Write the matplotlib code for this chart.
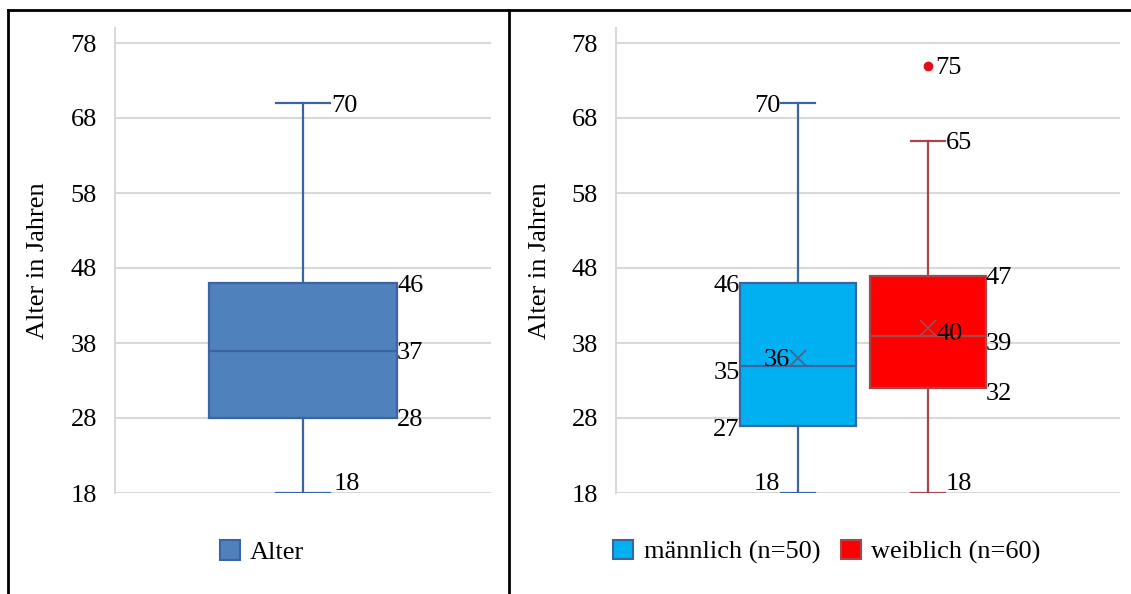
import matplotlib
matplotlib.use("Agg")
import matplotlib.pyplot as plt
from matplotlib.patches import Patch
from matplotlib.lines import Line2D

# ---- data -------------------------------------------------------------
overall_label = "Alter"
overall_stats = [18, 28, 37, 46, 70]          # min, Q1, median, Q3, max

group_labels = ["männlich (n=50)", "weiblich (n=60)"]
group_stats = [[18, 27, 35, 46, 70],           # min, Q1, median, Q3, max
               [18, 32, 39, 47, 65]]
group_means = [36, 40]
group_outliers = [[], [75]]

y_ticks = [18, 28, 38, 48, 58, 68, 78]
y_label = "Alter in Jahren"

# ---- style ------------------------------------------------------------
plt.rcParams["font.family"] = ["Liberation Serif", "DejaVu Serif"]
FS = 19
GRID = "#D9D9D9"

W, H = 1131, 594
fig = plt.figure(figsize=(W / 100, H / 100), dpi=100)


def px_axes(x0, x1, ytop, ybot):
    return fig.add_axes([x0 / W, 1 - ybot / H, (x1 - x0) / W, (ybot - ytop) / H])


def style_axis(ax):
    ax.set_xlim(0, 1)
    ax.set_ylim(18, 80)
    ax.set_yticks(y_ticks)
    ax.set_yticklabels([str(t) for t in y_ticks], fontsize=FS)
    ax.set_xticks([])
    ax.tick_params(axis="y", length=0, pad=13)
    for s in ["top", "right", "bottom"]:
        ax.spines[s].set_visible(False)
    ax.spines["left"].set_color(GRID)
    ax.spines["left"].set_linewidth(1.5)
    ax.yaxis.grid(True, color=GRID, linewidth=1.5)
    ax.set_axisbelow(True)


def draw_box(ax, stats, pos, width, capw, face, edge, whisk, mean=None,
             fliers=(), flier_color=None, mean_color=None):
    s = dict(whislo=stats[0], q1=stats[1], med=stats[2], q3=stats[3],
             whishi=stats[4], fliers=list(fliers))
    if mean is not None:
        s["mean"] = mean
    ax.bxp([s], positions=[pos], widths=width, capwidths=capw,
           patch_artist=True, showmeans=mean is not None,
           boxprops=dict(facecolor=face, edgecolor=edge, linewidth=1.6),
           medianprops=dict(color=edge, linewidth=1.6),
           whiskerprops=dict(color=whisk, linewidth=1.6),
           capprops=dict(color=whisk, linewidth=1.6),
           meanprops=dict(marker="x", markersize=12, markeredgewidth=1.3,
                          markeredgecolor=mean_color or edge),
           flierprops=dict(marker="o", markersize=6,
                           markerfacecolor=flier_color, markeredgecolor=flier_color),
           manage_ticks=False, zorder=3)


def label(ax, x, y, txt, ha, dx=0, dy=0):
    ax.annotate(txt, xy=(x, y), xytext=(dx, dy), textcoords="offset pixels",
                ha=ha, va="center_baseline", fontsize=FS, color="black",
                annotation_clip=False, zorder=5)


# ---- left panel: all respondents ------------------------------------
axL = px_axes(115, 491, 28, 493)
style_axis(axL)
posL, widL, capL = 0.5, 0.5, 0.146
draw_box(axL, overall_stats, posL, widL, capL,
         face="#4F81BD", edge="#3A65A0", whisk="#3A65A0")
label(axL, posL + capL / 2, overall_stats[4], str(overall_stats[4]), "left", dx=1)
label(axL, posL + capL / 2, overall_stats[0], str(overall_stats[0]), "left", dx=3, dy=11)
for v in overall_stats[1:4]:
    label(axL, posL + widL / 2, v, str(v), "left")
axL.text(-0.205, 0.5, y_label, transform=axL.transAxes, rotation=90,
         ha="center", va="center", fontsize=FS)
axL.legend(handles=[Patch(facecolor="#4F81BD", edgecolor="#3A65A0", linewidth=1.5,
                          label=overall_label)],
           loc="center", bbox_to_anchor=(262 / W, 1 - 552 / H),
           bbox_transform=fig.transFigure, frameon=False, fontsize=FS,
           handlelength=0.76, handleheight=0.76, handletextpad=0.4)

# ---- right panel: by gender ----------------------------------------
axR = px_axes(616, 1120, 28, 493)
style_axis(axR)
posR = [0.362, 0.619]
widR, capR = 0.23, 0.0675
faces = ["#00B0F0", "#FF0000"]
edges = ["#3A65A0", "#A8474A"]
means_c = ["#4A6591", "#A04A4A"]
for i in range(2):
    draw_box(axR, group_stats[i], posR[i], widR, capR, face=faces[i], edge=edges[i],
             whisk=edges[i], mean=group_means[i], fliers=group_outliers[i],
             flier_color="#E0101A", mean_color=means_c[i])

# male labels sit to the left, female labels to the right
m, f = group_stats
pm, pf = posR
label(axR, pm - capR / 2, m[4], str(m[4]), "right", dx=-1)
label(axR, pm - capR / 2, m[0], str(m[0]), "right", dx=-1, dy=11)
label(axR, pm - widR / 2, m[3], str(m[3]), "right", dx=-1)
label(axR, pm - widR / 2, m[2], str(m[2]), "right", dx=-1, dy=-5)
label(axR, pm - widR / 2, m[1], str(m[1]), "right", dx=-1, dy=-2)
label(axR, pm, group_means[0], str(group_means[0]), "right", dx=-9, dy=1)

label(axR, pf + capR / 2, f[4], str(f[4]), "left", dx=1)
label(axR, pf + capR / 2, f[0], str(f[0]), "left", dx=1, dy=11)
label(axR, pf + widR / 2, f[3], str(f[3]), "left", dx=0)
label(axR, pf + widR / 2, f[2], str(f[2]), "left", dx=0, dy=-6)
label(axR, pf + widR / 2, f[1], str(f[1]), "left", dx=0, dy=-4)
label(axR, pf, group_means[1], str(group_means[1]), "left", dx=9, dy=-4)
for v in group_outliers[1]:
    label(axR, pf, v, str(v), "left", dx=7)

axR.text((540 - 616) / 504, 0.5, y_label, transform=axR.transAxes, rotation=90,
         ha="center", va="center", fontsize=FS)
axR.legend(handles=[Patch(facecolor=faces[i], edgecolor=edges[i], linewidth=1.5,
                          label=group_labels[i]) for i in range(2)],
           loc="center", bbox_to_anchor=(827 / W, 1 - 552 / H),
           bbox_transform=fig.transFigure, frameon=False, fontsize=FS, ncol=2,
           handlelength=0.76, handleheight=0.76, handletextpad=0.4,
           columnspacing=0.76)

# ---- panel frames ----------------------------------------------------
ytop = 1 - 10 / H
for xs, ys in [((8 / W, 1.0), (ytop, ytop)),
               ((8 / W, 8 / W), (0, ytop)),
               ((509 / W, 509 / W), (0, ytop))]:
    fig.add_artist(Line2D(xs, ys, color="black", linewidth=2.0,
                          transform=fig.transFigure))

fig.savefig("out.png", dpi=100)
